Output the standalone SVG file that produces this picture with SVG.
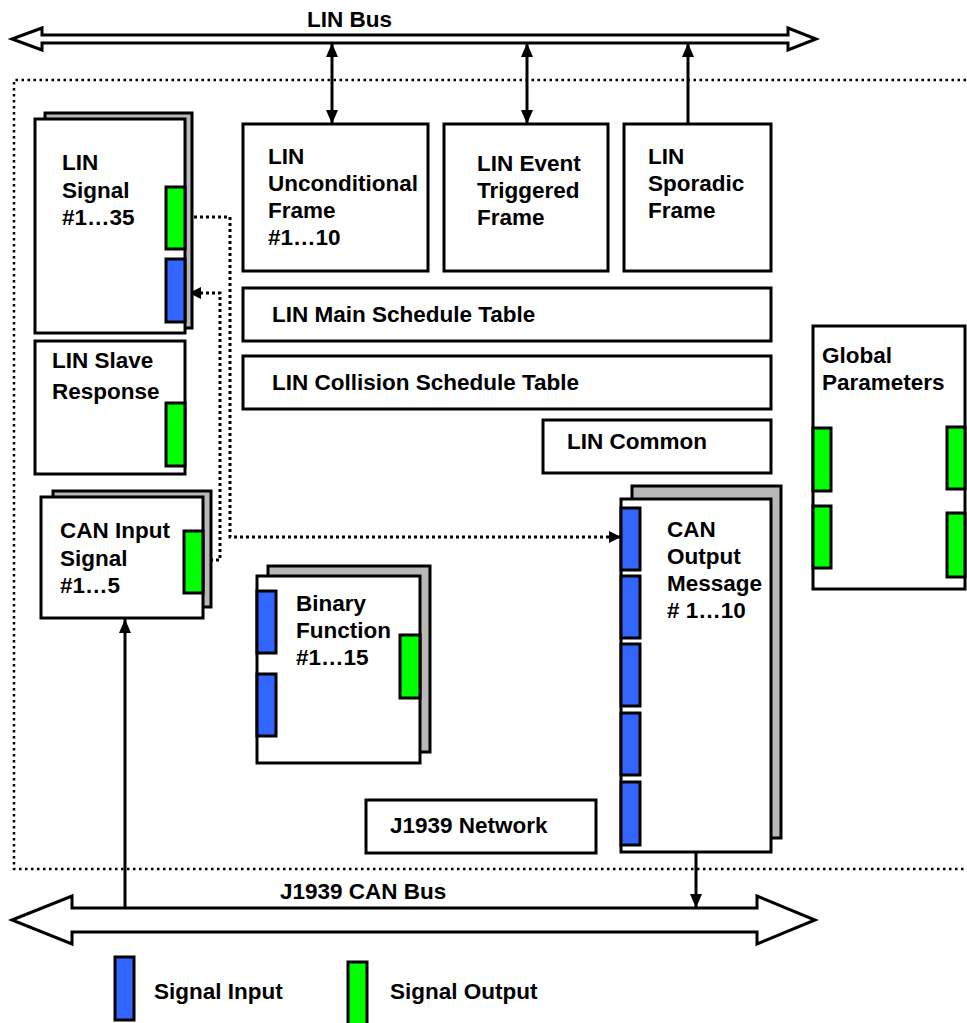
<svg xmlns="http://www.w3.org/2000/svg" width="967" height="1023" viewBox="0 0 967 1023">
<style>
.box{fill:#fff;stroke:#000;stroke-width:3}
.shadow{fill:#b8b8b8;stroke:#000;stroke-width:3}
.in{fill:#3366ff;stroke:#000;stroke-width:3}
.out{fill:#00ff00;stroke:#000;stroke-width:3}
.bus{fill:#fff;stroke:#000;stroke-width:3;stroke-linejoin:miter}
.t{font-family:"Liberation Sans",Arial,sans-serif;font-size:22.5px;font-weight:bold;fill:#000}
.solid{fill:none;stroke:#000;stroke-width:3}
.dot{fill:none;stroke:#000;stroke-width:3;stroke-dasharray:3 3}
.frame{fill:none;stroke:#000;stroke-width:2.5;stroke-dasharray:2.5 3.5}
</style>
<defs>
<marker id="ah" markerUnits="userSpaceOnUse" markerWidth="14" markerHeight="12" refX="14" refY="6" orient="auto-start-reverse">
<path d="M0,0 L14,6 L0,12 Z" fill="#000"/>
</marker>
<marker id="ahs" markerUnits="userSpaceOnUse" markerWidth="12" markerHeight="12" refX="12" refY="6" orient="auto">
<path d="M0,0 L12,6 L0,12 Z" fill="#000"/>
</marker>
</defs>

<rect x="0" y="0" width="967" height="1023" fill="#fff"/>

<!-- boundary -->
<path class="frame" d="M966,80 H14 V869 H966"/>

<!-- buses -->
<g id="lin-bus">
<polygon class="bus" points="12,39 42,28 42,35 788,35 788,28 816,39 788,50 788,43 42,43 42,50"/>
<text class="t" x="307" y="27">LIN Bus</text>
</g>
<g id="can-bus">
<polygon class="bus" points="12,920 72,896 72,908 757,908 757,896 815,920 757,944 757,932 72,932 72,944"/>
<text class="t" x="280" y="899">J1939 CAN Bus</text>
</g>

<!-- connectors -->
<g id="connectors">
<line class="solid" x1="332" y1="43" x2="332" y2="124" marker-start="url(#ah)" marker-end="url(#ah)"/>
<line class="solid" x1="527" y1="43" x2="527" y2="124" marker-start="url(#ah)" marker-end="url(#ah)"/>
<line class="solid" x1="688" y1="124" x2="688" y2="43" marker-end="url(#ah)"/>
<line class="solid" x1="125" y1="908" x2="125" y2="619" marker-end="url(#ah)"/>
<line class="solid" x1="696" y1="852" x2="696" y2="908" marker-end="url(#ah)"/>
<path class="dot" d="M188,217 H230 V537 H621" marker-end="url(#ahs)"/>
<path class="dot" d="M210,560 H220 V293 H189" marker-end="url(#ahs)"/>
</g>

<!-- LIN Signal -->
<g id="lin-signal">
<rect class="shadow" x="45" y="113" width="147" height="215"/>
<rect class="box" x="35" y="119" width="150" height="214"/>
<rect class="out" x="166" y="187" width="19" height="62"/>
<rect class="in" x="166" y="259" width="19" height="63"/>
<text class="t" x="62" y="170">LIN</text>
<text class="t" x="62" y="198">Signal</text>
<text class="t" x="62" y="225">#1…35</text>
</g>

<!-- LIN Slave Response -->
<g id="lin-slave-response">
<rect class="box" x="35" y="341" width="150" height="133"/>
<rect class="out" x="166" y="403" width="19" height="63"/>
<text class="t" x="52" y="368">LIN Slave</text>
<text class="t" x="52" y="399">Response</text>
</g>

<!-- CAN Input Signal -->
<g id="can-input-signal">
<rect class="shadow" x="53" y="491" width="158" height="116"/>
<rect class="box" x="41" y="497" width="162" height="121"/>
<rect class="out" x="184" y="531" width="19" height="62"/>
<text class="t" x="60" y="538">CAN Input</text>
<text class="t" x="60" y="566">Signal</text>
<text class="t" x="60" y="593">#1…5</text>
</g>

<!-- LIN frames -->
<g id="lin-unconditional-frame">
<rect class="box" x="243" y="124" width="185" height="147"/>
<text class="t" x="268" y="164">LIN</text>
<text class="t" x="268" y="191">Unconditional</text>
<text class="t" x="268" y="218">Frame</text>
<text class="t" x="268" y="245">#1…10</text>
</g>
<g id="lin-event-triggered-frame">
<rect class="box" x="444" y="124" width="164" height="147"/>
<text class="t" x="477" y="171">LIN Event</text>
<text class="t" x="477" y="198">Triggered</text>
<text class="t" x="477" y="225">Frame</text>
</g>
<g id="lin-sporadic-frame">
<rect class="box" x="624" y="124" width="147" height="147"/>
<text class="t" x="648" y="164">LIN</text>
<text class="t" x="648" y="191">Sporadic</text>
<text class="t" x="648" y="218">Frame</text>
</g>
<g id="lin-main-schedule-table">
<rect class="box" x="243" y="288" width="528" height="53"/>
<text class="t" x="272" y="322">LIN Main Schedule Table</text>
</g>
<g id="lin-collision-schedule-table">
<rect class="box" x="243" y="356" width="528" height="53"/>
<text class="t" x="272" y="390">LIN Collision Schedule Table</text>
</g>
<g id="lin-common">
<rect class="box" x="543" y="420" width="228" height="53"/>
<text class="t" x="567" y="449">LIN Common</text>
</g>

<!-- Global Parameters -->
<g id="global-parameters">
<rect class="box" x="813" y="326" width="152" height="263"/>
<rect class="out" x="813" y="428" width="18" height="63"/>
<rect class="out" x="813" y="506" width="18" height="62"/>
<rect class="out" x="947" y="427" width="18" height="62"/>
<rect class="out" x="947" y="513" width="18" height="64"/>
<text class="t" x="822" y="363">Global</text>
<text class="t" x="822" y="390">Parameters</text>
</g>

<!-- CAN Output Message -->
<g id="can-output-message">
<rect class="shadow" x="632" y="486" width="149" height="352"/>
<rect class="box" x="621" y="499" width="150" height="353"/>
<rect class="in" x="621" y="508" width="19" height="62"/>
<rect class="in" x="621" y="576" width="19" height="62"/>
<rect class="in" x="621" y="644" width="19" height="62"/>
<rect class="in" x="621" y="713" width="19" height="62"/>
<rect class="in" x="621" y="782" width="19" height="63"/>
<text class="t" x="667" y="537">CAN</text>
<text class="t" x="667" y="564">Output</text>
<text class="t" x="667" y="591">Message</text>
<text class="t" x="667" y="618"># 1…10</text>
</g>

<!-- Binary Function -->
<g id="binary-function">
<rect class="shadow" x="268" y="566" width="162" height="186"/>
<rect class="box" x="257" y="576" width="163" height="187"/>
<rect class="in" x="257" y="591" width="19" height="62"/>
<rect class="in" x="257" y="674" width="19" height="62"/>
<rect class="out" x="400" y="635" width="20" height="63"/>
<text class="t" x="296" y="611">Binary</text>
<text class="t" x="296" y="638">Function</text>
<text class="t" x="296" y="665">#1…15</text>
</g>

<!-- J1939 Network -->
<g id="j1939-network">
<rect class="box" x="366" y="800" width="230" height="53"/>
<text class="t" x="390" y="833">J1939 Network</text>
</g>

<!-- legend -->
<g id="legend">
<rect class="in" x="115" y="957" width="19" height="63"/>
<text class="t" x="154" y="999">Signal Input</text>
<rect class="out" x="348" y="962" width="19" height="63"/>
<text class="t" x="390" y="999">Signal Output</text>
</g>
</svg>
